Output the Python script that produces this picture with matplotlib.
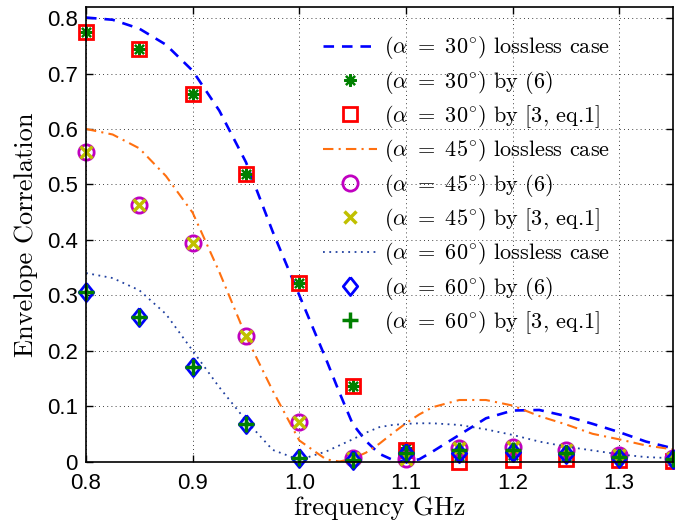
import matplotlib
matplotlib.use("Agg")
import matplotlib.pyplot as plt

# lossless curves
curve_freq = [0.800, 0.825, 0.850, 0.875, 0.900, 0.925, 0.950, 0.975, 1.000, 1.025,
              1.0375, 1.050, 1.0625, 1.075, 1.0875, 1.100, 1.1125, 1.125, 1.150, 1.175,
              1.200, 1.225, 1.250, 1.275, 1.300, 1.325, 1.350]
lossless_30 = [0.801, 0.797, 0.781, 0.752, 0.705, 0.633, 0.540, 0.415, 0.300, 0.185,
               0.125, 0.068, 0.037, 0.014, 0.003, 0.000, 0.004, 0.018, 0.048, 0.078,
               0.092, 0.093, 0.082, 0.068, 0.053, 0.036, 0.024]
lossless_45 = [0.600, 0.590, 0.565, 0.515, 0.449, 0.342, 0.226, 0.128, 0.038, 0.004,
               0.000, 0.005, 0.016, 0.032, 0.051, 0.069, 0.085, 0.098, 0.111, 0.111,
               0.101, 0.082, 0.067, 0.050, 0.040, 0.029, 0.022]
lossless_60 = [0.340, 0.331, 0.309, 0.266, 0.200, 0.134, 0.074, 0.021, 0.003, 0.018,
               0.029, 0.040, 0.052, 0.062, 0.066, 0.068, 0.069, 0.069, 0.066, 0.058,
               0.048, 0.036, 0.027, 0.020, 0.013, 0.008, 0.006]

# computed points
point_freq = [0.80, 0.85, 0.90, 0.95, 1.00, 1.05, 1.10, 1.15, 1.20, 1.25, 1.30, 1.35]
eq6_30 = [0.775, 0.745, 0.663, 0.518, 0.322, 0.137, 0.025, 0.010, 0.012, 0.010, 0.006, 0.004]
ref3_30 = [0.775, 0.745, 0.663, 0.518, 0.322, 0.137, 0.020, 0.000, 0.003, 0.005, 0.002, 0.001]
eq6_45 = [0.558, 0.462, 0.395, 0.226, 0.072, 0.006, 0.005, 0.025, 0.027, 0.020, 0.012, 0.007]
ref3_45 = [0.558, 0.462, 0.395, 0.226, 0.072, 0.006, 0.005, 0.025, 0.027, 0.020, 0.012, 0.007]
eq6_60 = [0.305, 0.260, 0.171, 0.067, 0.006, 0.003, 0.016, 0.015, 0.017, 0.014, 0.007, 0.004]
ref3_60 = [0.305, 0.260, 0.171, 0.067, 0.006, 0.003, 0.016, 0.020, 0.020, 0.015, 0.009, 0.005]

x_ticks = [0.8, 0.9, 1.0, 1.1, 1.2, 1.3]
x_tick_labels = ["0.8", "0.9", "1.0", "1.1", "1.2", "1.3"]
y_ticks = [0, 0.1, 0.2, 0.3, 0.4, 0.5, 0.6, 0.7, 0.8]
y_tick_labels = ["0", "0.1", "0.2", "0.3", "0.4", "0.5", "0.6", "0.7", "0.8"]

plt.rcParams["mathtext.fontset"] = "cm"
plt.rcParams["axes.unicode_minus"] = False

fig = plt.figure(figsize=(6.75, 5.28), dpi=100)
ax = fig.add_axes([0.1274, 0.1259, 0.8690, 0.8608])

diamond = [(0, 1), (0.8, 0), (0, -1), (-0.8, 0), (0, 1)]

ax.plot(curve_freq, lossless_30, color="#0000ff", lw=1.9, dashes=(4, 3),
        label=r"$(\alpha\ =\ 30^{\circ})$ lossless case")
ax.plot(point_freq, eq6_30, ls="none", marker=(8, 2, 0), ms=9, mew=1.6,
        color="#008000", clip_on=False, label=r"$(\alpha\ =\ 30^{\circ})$ by (6)")
ax.plot(point_freq, ref3_30, ls="none", marker="s", ms=10, mew=2, mfc="none",
        mec="#ff0000", clip_on=False, label=r"$(\alpha\ =\ 30^{\circ})$ by [3, eq.1]")
ax.plot(curve_freq, lossless_45, color="#ff7010", lw=1.5, dashes=(5, 2.5, 1, 2.5),
        label=r"$(\alpha\ =\ 45^{\circ})$ lossless case")
ax.plot(point_freq, eq6_45, ls="none", marker="o", ms=11, mew=2, mfc="none",
        mec="#c000c0", clip_on=False, label=r"$(\alpha\ =\ 45^{\circ})$ by (6)")
ax.plot(point_freq, ref3_45, ls="none", marker="x", ms=8, mew=2.5,
        color="#c0c000", clip_on=False, label=r"$(\alpha\ =\ 45^{\circ})$ by [3, eq.1]")
ax.plot(curve_freq, lossless_60, color="#2040a0", lw=1.3, dashes=(1, 2.5),
        label=r"$(\alpha\ =\ 60^{\circ})$ lossless case")
ax.plot(point_freq, eq6_60, ls="none", marker=diamond, ms=13, mew=2, mfc="none",
        mec="#0000ff", clip_on=False, label=r"$(\alpha\ =\ 60^{\circ})$ by (6)")
ax.plot(point_freq, ref3_60, ls="none", marker="+", ms=11, mew=2.5,
        color="#008000", clip_on=False, label=r"$(\alpha\ =\ 60^{\circ})$ by [3, eq.1]")

ax.set_xlim(0.8, 1.35)
ax.set_ylim(0, 0.82)
ax.set_xticks(x_ticks)
ax.set_xticklabels(x_tick_labels)
ax.set_yticks(y_ticks)
ax.set_yticklabels(y_tick_labels)
ax.tick_params(direction="in", top=True, right=True, length=5, width=1,
               labelsize=16, pad=6)
ax.tick_params(axis="x", pad=8)
for label in ax.get_xticklabels() + ax.get_yticklabels():
    label.set_fontfamily("Liberation Sans")
ax.grid(True, color="black", lw=0.6, dashes=(1, 4))
for spine in ax.spines.values():
    spine.set_linewidth(1.2)

ax.set_xlabel("frequency GHz", fontfamily="cmr10", fontsize=19, labelpad=2)
ax.set_ylabel("Envelope Correlation", fontfamily="cmr10", fontsize=19, labelpad=6)

ax.legend(loc="upper left", bbox_to_anchor=(0.404, 0.94), frameon=False,
          borderpad=0, borderaxespad=0, handlelength=2.45, handletextpad=0.3,
          labelspacing=0.33, prop={"family": "cmr10", "size": 16})

fig.savefig("out.png", dpi=100)
